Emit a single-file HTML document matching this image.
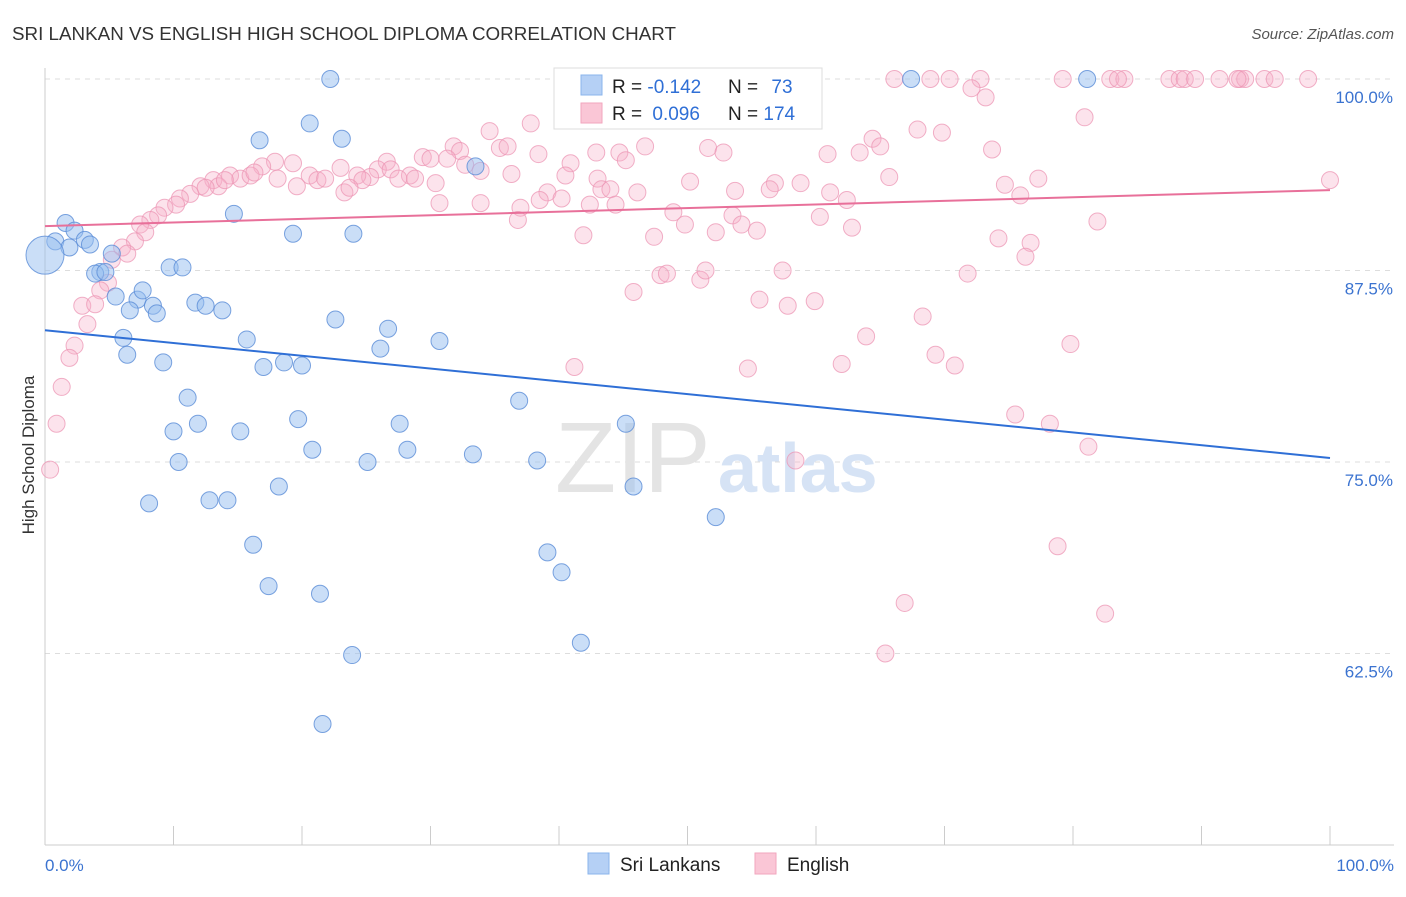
<!DOCTYPE html>
<html><head><meta charset="utf-8">
<style>
body{margin:0;background:#fff;font-family:"Liberation Sans",sans-serif;}
svg text{font-family:"Liberation Sans",sans-serif;}
</style></head>
<body>
<svg id="chart" width="1406" height="892" xmlns="http://www.w3.org/2000/svg">
<text x="12" y="40" font-size="18" fill="#333" textLength="664" lengthAdjust="spacingAndGlyphs">SRI LANKAN VS ENGLISH HIGH SCHOOL DIPLOMA CORRELATION CHART</text>
<text x="1394" y="39" font-size="15" fill="#555" text-anchor="end" font-style="italic">Source: ZipAtlas.com</text>
<text x="34" y="455" font-size="17" fill="#333" text-anchor="middle" transform="rotate(-90 34 455)">High School Diploma</text>
<g id="grid"></g>
<g id="axes"></g>
<text x="555" y="492" font-size="100" fill="#e4e4e4" font-family="Liberation Serif">ZIP</text>
<text x="718" y="492" font-size="70" fill="#d6e3f5" font-weight="bold">atlas</text>
<g id="pink"></g>
<g id="blue"></g>
<g id="lines"></g>
<g>
<rect x="554" y="68" width="268" height="61" fill="#fff" stroke="#ddd"/>
<rect x="581" y="75" width="21" height="20" fill="#b5d0f5" stroke="#8ab4ec"/>
<rect x="581" y="103" width="21" height="20" fill="#fac6d6" stroke="#f2a6be"/>
<text x="612" y="93" font-size="19" fill="#222">R = <tspan fill="#2f6fd6">-0.142</tspan></text>
<text x="728" y="93" font-size="19" fill="#222">N = <tspan fill="#2f6fd6" dx="8">73</tspan></text>
<text x="612" y="120" font-size="19" fill="#222">R = <tspan fill="#2f6fd6" dx="5">0.096</tspan></text>
<text x="728" y="120" font-size="19" fill="#222">N = <tspan fill="#2f6fd6">174</tspan></text>
</g>
<g>
<rect x="588" y="853" width="21" height="21" fill="#b5d0f5" stroke="#8ab4ec"/>
<text x="620" y="871" font-size="19" fill="#222">Sri Lankans</text>
<rect x="755" y="853" width="21" height="21" fill="#fac6d6" stroke="#f2a6be"/>
<text x="787" y="871" font-size="19" fill="#222">English</text>
</g>
</svg>
<script>
const xTicksPct=[0,10,20,30,40,50,60,70,80,90,100];
const yTicks=[100,87.5,75,62.5];
const yTickLabels=["100.0%","87.5%","75.0%","62.5%"];
const blueX=[22.2,67.4,81.1,20.6,16.7,23.1,33.5,14.7,1.6,2.3,0.8,1.9,3.1,3.5,19.3,24.0,5.2,4.3,3.9,4.7,9.7,10.7,5.5,7.2,7.6,8.4,8.7,6.6,11.7,12.5,13.8,22.6,26.7,6.1,6.4,9.2,15.7,17.0,18.6,20.0,26.1,30.7,11.1,10.0,11.9,15.2,19.7,20.8,10.4,25.1,27.6,28.2,33.3,36.9,38.3,45.2,45.8,8.1,12.8,14.2,18.2,16.2,17.4,21.4,39.1,40.2,52.2,23.9,41.7,21.6];
const blueY=[100,100,100,97.1,96.0,96.1,94.3,91.2,90.6,90.1,89.4,89.0,89.5,89.2,89.9,89.9,88.6,87.4,87.3,87.4,87.7,87.7,85.8,85.6,86.2,85.2,84.7,84.9,85.4,85.2,84.9,84.3,83.7,83.1,82.0,81.5,83.0,81.2,81.5,81.3,82.4,82.9,79.2,77.0,77.5,77.0,77.8,75.8,75.0,75.0,77.5,75.8,75.5,79.0,75.1,77.5,73.4,72.3,72.5,72.5,73.4,69.6,66.9,66.4,69.1,67.8,71.4,62.4,63.2,57.9];
const blueBigX=[0.0], blueBigY=[88.5];
const pinkX=[66.1,68.9,70.4,72.8,79.2,82.9,84.0,87.5,88.3,88.7,89.5,91.4,93.0,93.4,94.9,95.7,98.3,83.5,92.8,
72.1,73.2,80.9,59.4,67.9,69.8,64.4,65.0,34.6,37.8,31.8,32.3,35.4,36.0,38.4,29.4,30.0,32.7,31.3,40.9,42.9,44.7,45.2,46.7,51.6,52.8,60.9,63.4,73.7,33.9,26.6,25.9,26.9,28.4,28.8,25.3,24.3,24.7,23.0,20.6,21.2,19.3,17.9,16.9,18.1,19.6,21.8,23.3,23.7,27.5,30.4,36.3,39.1,40.2,40.5,43.0,43.3,44.0,46.1,50.2,53.7,56.8,56.4,58.8,61.1,62.4,65.7,74.7,75.9,77.3,100,14.4,15.2,16.0,16.3,13.1,13.5,14.0,12.1,12.5,11.3,10.5,10.2,9.3,8.8,8.2,7.4,7.8,7.0,6.0,6.4,5.2,4.9,4.3,2.9,3.9,3.3,2.3,1.9,1.3,0.9,0.4,30.7,33.9,37.0,36.8,38.5,42.4,44.4,48.9,49.8,52.2,53.5,54.2,55.4,60.3,62.8,41.9,47.4,74.2,76.7,76.3,81.9,47.9,48.4,51.0,51.4,45.8,55.6,57.8,59.9,57.4,71.8,68.3,63.9,69.3,70.8,62.0,54.7,41.2,79.8,75.5,78.2,81.2,58.4,78.8,66.9,65.4,82.5];
const pinkY=[100,100,100,100,100,100,100,100,100,100,100,100,100,100,100,100,100,100,100,
99.4,98.8,97.5,97.8,96.7,96.5,96.1,95.6,96.6,97.1,95.6,95.3,95.5,95.6,95.1,94.9,94.8,94.4,94.8,94.5,95.2,95.2,94.7,95.6,95.5,95.2,95.1,95.2,95.4,94.0,94.6,94.1,94.1,93.7,93.5,93.6,93.7,93.4,94.2,93.7,93.4,94.5,94.6,94.3,93.5,93.0,93.5,92.6,92.9,93.5,93.2,93.8,92.6,92.2,93.7,93.5,92.8,92.8,92.6,93.3,92.7,93.2,92.8,93.2,92.6,92.1,93.6,93.1,92.4,93.5,93.4,93.7,93.5,93.7,93.9,93.4,93.0,93.4,93.0,92.9,92.5,92.2,91.8,91.6,91.1,90.8,90.5,90.0,89.4,89.0,88.6,88.2,86.7,86.2,85.2,85.3,84.0,82.6,81.8,79.9,77.5,74.5,91.9,91.9,91.6,90.8,92.1,91.8,91.8,91.3,90.5,90.0,91.1,90.5,90.1,91.0,90.3,89.8,89.7,89.6,89.3,88.4,90.7,87.2,87.3,86.9,87.5,86.1,85.6,85.2,85.5,87.5,87.3,84.5,83.2,82.0,81.3,81.4,81.1,81.2,82.7,78.1,77.5,76.0,75.1,69.5,65.8,62.5,65.1];
const blueTrend=[83.6,75.26];
const pinkTrend=[90.4,92.75];

const NS="http://www.w3.org/2000/svg";
const X0=45,X1=1330,Y100=79,PXPCT=15.32;
function sx(v){return X0+(X1-X0)*v/100;}
function sy(v){return Y100+(100-v)*PXPCT;}
function mk(tag,attrs,parent){const e=document.createElementNS(NS,tag);for(const k in attrs)e.setAttribute(k,attrs[k]);parent.appendChild(e);return e;}

const grid=document.getElementById('grid');
yTicks.forEach((t,i)=>{
  const l=mk('line',{x1:X0,x2:1394,y1:sy(t),y2:sy(t),stroke:'#ddd','stroke-dasharray':'5,5'},grid);
  
  
  const tx=mk('text',{x:1393,y:sy(t)+24,'font-size':17,fill:'#3b73d0','text-anchor':'end'},grid);
  tx.textContent=yTickLabels[i];
  
  
});
const axes=document.getElementById('axes');
let a=mk('line',{x1:X0,x2:X0,y1:68,y2:845,stroke:'#ccc'},axes);


a=mk('line',{x1:X0,x2:1394,y1:845,y2:845,stroke:'#ccc'},axes);


xTicksPct.forEach(t=>{
  const l=mk('line',{x1:sx(t),x2:sx(t),y1:826,y2:845,stroke:'#ccc'},axes);
  
  
});
let t0=mk('text',{x:45,y:871,'font-size':17,fill:'#3b73d0'},axes);t0.textContent='0.0%';


let t1=mk('text',{x:1394,y:871,'font-size':17,fill:'#3b73d0','text-anchor':'end'},axes);t1.textContent='100.0%';



const pg=document.getElementById('pink');
pinkX.forEach((v,i)=>{
  const c=mk('circle',{cx:sx(v),cy:sy(pinkY[i]),r:8.5,fill:'rgba(247,176,200,0.35)',stroke:'rgba(236,150,180,0.75)','stroke-width':1},pg);
  
  
});
const bg=document.getElementById('blue');
blueX.forEach((v,i)=>{
  const c=mk('circle',{cx:sx(v),cy:sy(blueY[i]),r:8.5,fill:'rgba(150,190,240,0.5)',stroke:'rgba(90,140,215,0.8)','stroke-width':1},bg);
  
  
});
blueBigX.forEach((v,i)=>{
  const c=mk('circle',{cx:sx(v),cy:sy(blueBigY[i]),r:19,fill:'rgba(150,190,240,0.5)',stroke:'rgba(90,140,215,0.8)','stroke-width':1},bg);
  
  
});
const lg=document.getElementById('lines');
let ln=mk('line',{x1:sx(0),y1:sy(blueTrend[0]),x2:sx(100),y2:sy(blueTrend[1]),stroke:'#2f6fd6','stroke-width':2},lg);


ln=mk('line',{x1:sx(0),y1:sy(pinkTrend[0]),x2:sx(100),y2:sy(pinkTrend[1]),stroke:'#e8709a','stroke-width':2},lg);


</script>
</body></html>
